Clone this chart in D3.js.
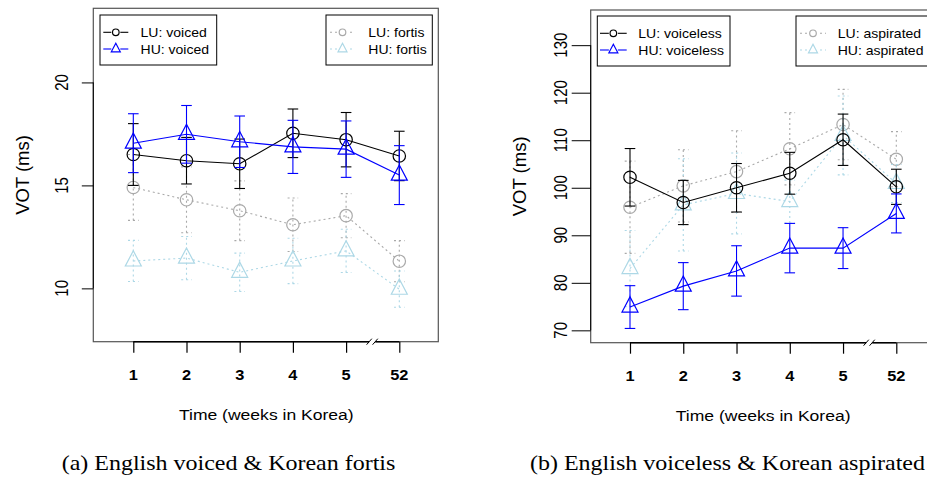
<!DOCTYPE html>
<html><head><meta charset="utf-8">
<script src="https://cdn.jsdelivr.net/npm/d3@7"></script>
<style>html,body{margin:0;padding:0;background:#fff;}svg{display:block;}</style>
</head><body>
<svg id="chart" width="927" height="477"></svg>
<script>
// ---------------- data ----------------
const weeks = ["1", "2", "3", "4", "5", "52"];
const yTicksA = [10, 15, 20];
const yTicksB = [70, 80, 90, 100, 110, 120, 130];

// Panel (a): English voiced & Korean fortis
const luVoiced     = [16.50, 16.20, 16.05, 17.53, 17.22, 16.43];
const luVoicedErr  = [1.50, 1.13, 1.20, 1.18, 1.32, 1.20];
const huVoiced     = [17.05, 17.48, 17.12, 16.87, 16.76, 15.50];
const huVoicedErr  = [1.43, 1.40, 1.25, 1.29, 1.37, 1.43];
const luFortis     = [14.90, 14.30, 13.77, 13.09, 13.53, 11.32];
const luFortisErr  = [1.60, 1.60, 1.45, 1.30, 1.07, 1.00];
const huFortis     = [11.33, 11.47, 10.78, 11.33, 11.82, 9.96];
const huFortisErr  = [1.00, 1.05, 0.93, 1.10, 1.05, 0.88];

// Panel (b): English voiceless & Korean aspirated
const luVoiceless     = [102.2, 96.9, 100.0, 103.05, 110.1, 100.2];
const luVoicelessErr  = [6.05, 4.65, 5.10, 4.40, 5.40, 3.70];
const huVoiceless     = [74.9, 79.3, 82.5, 87.3, 87.3, 94.6];
const huVoicelessErr  = [4.50, 4.95, 5.30, 5.20, 4.30, 4.10];
const luAspirated     = [95.9, 100.4, 103.4, 108.2, 113.3, 106.0];
const luAspiratedErr  = [9.70, 7.60, 8.60, 7.60, 7.40, 5.80];
const huAspirated     = [83.0, 96.4, 98.8, 97.1, 111.0, 100.9];
const huAspiratedErr  = [8.00, 9.70, 8.50, 4.50, 8.30, 4.00];

const legendA1 = ["LU: voiced", "HU: voiced"];
const legendA2 = ["LU: fortis", "HU: fortis"];
const legendB1 = ["LU: voiceless", "HU: voiceless"];
const legendB2 = ["LU: aspirated", "HU: aspirated"];
const captions = ["(a) English voiced & Korean fortis", "(b) English voiceless & Korean aspirated"];
const xTitle = "Time (weeks in Korea)";
const yTitle = "VOT (ms)";

// ---------------- styles ----------------
const SANS = "'Liberation Sans', Arial, Helvetica, sans-serif";
const SERIF = "'Liberation Serif', 'Times New Roman', serif";
const SX = 1.17; // horizontal stretch of the original figure
const styles = {
  lu:  {color: "#000000", dash: null, shape: "circle"},
  hu:  {color: "#0000ff", dash: null, shape: "triangle"},
  luK: {color: "#a9a9a9", dash: "2,3", shape: "circle"},
  huK: {color: "#add8e6", dash: "2,3", shape: "triangle"}
};

const svg = d3.select("#chart");

function txt(g, x, y, s, o) {
  o = o || {};
  return g.append("text")
    .attr("transform", `translate(${x},${y}) scale(${o.sx || SX},1)` + (o.rot ? ` rotate(${o.rot})` : ""))
    .attr("text-anchor", o.anchor || "middle")
    .attr("font-family", o.family || SANS)
    .attr("font-size", o.size || 14)
    .attr("font-weight", o.weight || "normal")
    .attr("fill", o.fill || "#000")
    .text(s);
}

function marker(g, shape, x, y, size, color) {
  if (shape === "circle") {
    g.append("circle").attr("cx", x).attr("cy", y).attr("r", size)
      .attr("fill", "none").attr("stroke", color).attr("stroke-width", 1.2);
  } else {
    const pts = [[x, y - 1.27 * size], [x + size, y + 0.63 * size], [x - size, y + 0.63 * size]];
    g.append("path").attr("d", d3.line()(pts) + "Z")
      .attr("fill", "none").attr("stroke", color).attr("stroke-width", 1.2);
  }
}

function drawPanel(cfg) {
  const g = svg.append("g");
  const x = d3.scaleLinear().domain([0, weeks.length - 1]).range(cfg.xRange);
  const y = d3.scaleLinear().domain(cfg.yDomain).range([cfg.box.y1, cfg.box.y0]);

  // box
  g.append("rect").attr("x", cfg.box.x0).attr("y", cfg.box.y0)
    .attr("width", cfg.box.x1 - cfg.box.x0).attr("height", cfg.box.y1 - cfg.box.y0)
    .attr("fill", "none").attr("stroke", "#555").attr("stroke-width", 1.2);

  // y axis (ticks + rotated labels)
  const yAxis = d3.axisLeft(y).tickValues(cfg.yTicks).tickSize(cfg.yTickLen).tickFormat("");
  const ya = g.append("g").attr("transform", `translate(${cfg.box.x0},0)`).call(yAxis);
  ya.select(".domain").attr("stroke", "#000").attr("d", `M0,${y(cfg.yTicks[0])}V${y(cfg.yTicks[cfg.yTicks.length - 1])}`);
  ya.selectAll(".tick line").attr("stroke", "#000");
  cfg.yTicks.forEach(v => txt(g, cfg.yLabelX, y(v), String(v), {size: 15, rot: -90, sx: 1.2}));

  // x axis
  const xAxis = d3.axisBottom(x).tickValues(d3.range(weeks.length)).tickSize(11).tickFormat("");
  const xa = g.append("g").attr("transform", `translate(0,${cfg.box.y1})`).call(xAxis);
  xa.select(".domain").attr("stroke", "#000").attr("stroke-width", 1.6)
    .attr("d", `M${x(0)},0H${x(weeks.length - 1)}`);
  xa.selectAll(".tick line").attr("stroke", "#000").attr("stroke-width", 1.2);
  weeks.forEach((w, i) => txt(g, x(i), cfg.box.y1 + 38, w, {size: 14, weight: "bold"}));

  // axis break between 5 and 52
  const bx = (x(4) + x(5)) / 2 - 0.5;
  const by = cfg.box.y1;
  g.append("rect").attr("x", bx - 3).attr("y", by - 2).attr("width", 6).attr("height", 4).attr("fill", "#fff");
  [-3, 3].forEach(o => g.append("line")
    .attr("x1", bx + o - 2.6).attr("y1", by + 3).attr("x2", bx + o + 2.6).attr("y2", by - 3)
    .attr("stroke", "#000").attr("stroke-width", 1));

  // titles
  txt(g, (x(0) + x(weeks.length - 1)) / 2, cfg.box.y1 + 78, xTitle, {size: 15});
  txt(g, cfg.yTitleX, (cfg.box.y0 + cfg.box.y1) / 2, yTitle, {size: 18.5, rot: -90, sx: 0.95});
  txt(g, cfg.captionX, 470, cfg.caption, {size: 20, family: SERIF, sx: 1.2});

  // series
  const plotG = g.append("g");
  cfg.series.forEach(s => {
    const st = styles[s.style];
    const pts = s.values.map((v, i) => [x(i), y(v)]);
    s.values.forEach((v, i) => {
      const xi = x(i), lo = y(v - s.err[i]), hi = y(v + s.err[i]);
      const eg = plotG.append("g").attr("stroke", st.color).attr("stroke-width", 1.1)
        .attr("stroke-dasharray", st.dash);
      eg.append("line").attr("x1", xi).attr("x2", xi).attr("y1", lo).attr("y2", hi);
      eg.append("line").attr("x1", xi - 5.3).attr("x2", xi + 5.3).attr("y1", lo).attr("y2", lo);
      eg.append("line").attr("x1", xi - 5.3).attr("x2", xi + 5.3).attr("y1", hi).attr("y2", hi);
    });
    plotG.append("path").attr("d", d3.line()(pts)).attr("fill", "none")
      .attr("stroke", st.color).attr("stroke-width", 1.1).attr("stroke-dasharray", st.dash);
    pts.forEach(p => marker(plotG, st.shape, p[0], p[1], st.shape === "circle" ? 6.2 : 8, st.color));
  });

  // legends
  cfg.legends.forEach(L => {
    const lg = g.append("g");
    lg.append("rect").attr("x", L.x0).attr("y", L.y0).attr("width", L.x1 - L.x0).attr("height", L.y1 - L.y0)
      .attr("fill", "#fff").attr("stroke", "#000").attr("stroke-width", 1);
    L.items.forEach((it, k) => {
      const st = styles[it.style];
      const ry = L.rows[k];
      lg.append("line").attr("x1", L.lx0).attr("x2", L.lx1).attr("y1", ry).attr("y2", ry)
        .attr("stroke", st.color).attr("stroke-width", 1.1).attr("stroke-dasharray", st.dash);
      const mx = (L.lx0 + L.lx1) / 2;
      lg.append("rect").attr("x", mx - 4.5).attr("y", ry - 4.5).attr("width", 9).attr("height", 9).attr("fill", "#fff");
      marker(lg, st.shape, mx, ry, st.shape === "circle" ? 3.3 : 4.5, st.color);
      txt(lg, L.tx, ry + 4.5, it.label, {size: 12, anchor: "start"});
    });
  });
}

drawPanel({
  box: {x0: 93.3, x1: 438.3, y0: 8.3, y1: 341.7},
  xRange: [133.3, 399.3],
  yDomain: [7.41, 23.6],
  yTicks: yTicksA, yTickLen: 11.5, yLabelX: 68.3, yTitleX: 29,
  caption: captions[0], captionX: 228.5,
  series: [
    {values: luFortis, err: luFortisErr, style: "luK"},
    {values: huFortis, err: huFortisErr, style: "huK"},
    {values: luVoiced, err: luVoicedErr, style: "lu"},
    {values: huVoiced, err: huVoicedErr, style: "hu"}
  ],
  legends: [
    {x0: 100, x1: 216.7, y0: 15, y1: 65, lx0: 103.3, lx1: 128.3, tx: 140.5, rows: [32.3, 49],
     items: [{label: legendA1[0], style: "lu"}, {label: legendA1[1], style: "hu"}]},
    {x0: 326, x1: 432.3, y0: 15, y1: 65, lx0: 330, lx1: 355, tx: 368.3, rows: [32.3, 49],
     items: [{label: legendA2[0], style: "luK"}, {label: legendA2[1], style: "huK"}]}
  ]
});

drawPanel({
  box: {x0: 590.7, x1: 945, y0: 10, y1: 342.7},
  xRange: [630, 896.3],
  yDomain: [67.4, 137.4],
  yTicks: yTicksB, yTickLen: 19, yLabelX: 567, yTitleX: 526,
  caption: captions[1], captionX: 727.5,
  series: [
    {values: luAspirated, err: luAspiratedErr, style: "luK"},
    {values: huAspirated, err: huAspiratedErr, style: "huK"},
    {values: luVoiceless, err: luVoicelessErr, style: "lu"},
    {values: huVoiceless, err: huVoicelessErr, style: "hu"}
  ],
  legends: [
    {x0: 597.3, x1: 730, y0: 16, y1: 66, lx0: 600, lx1: 626.7, tx: 638.3, rows: [33.3, 50],
     items: [{label: legendB1[0], style: "lu"}, {label: legendB1[1], style: "hu"}]},
    {x0: 796, x1: 945, y0: 16, y1: 66, lx0: 800, lx1: 826, tx: 837.7, rows: [33.3, 50],
     items: [{label: legendB2[0], style: "luK"}, {label: legendB2[1], style: "huK"}]}
  ]
});
</script>
</body></html>
